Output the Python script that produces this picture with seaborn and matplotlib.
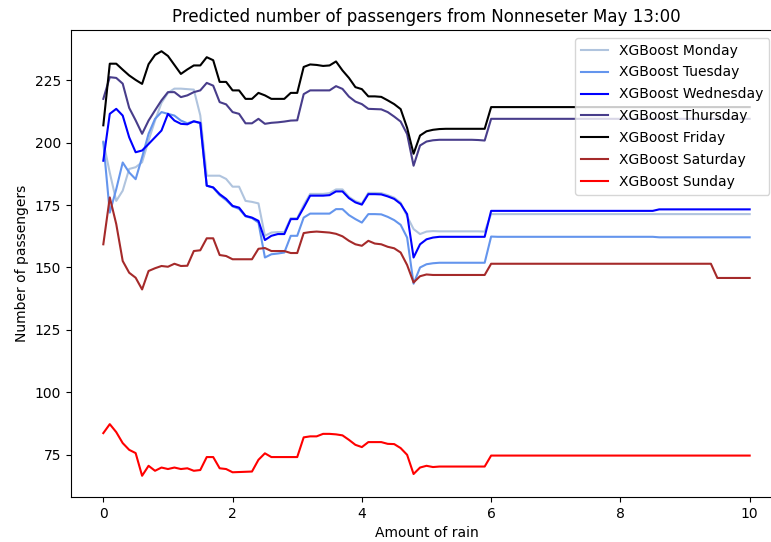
import numpy as np
import pandas as pd
import matplotlib
matplotlib.use("Agg")
import matplotlib.pyplot as plt
import seaborn as sns

# Amount of rain sampled every 0.1 from 0 to 10
rain = [round(i / 10, 1) for i in range(101)]

monday = [200.5, 188.0, 176.7, 180.8, 189.5, 190.2, 192.2, 200.9, 208.9, 216.0,
          220.0, 221.7, 221.7, 221.5, 221.3, 211.0, 186.8, 186.8, 186.8, 185.5,
          182.4, 182.4, 176.7, 176.3, 175.7, 162.7, 164.0, 164.2, 164.2, 169.8,
          169.8, 175.0, 179.5, 179.5, 179.5, 179.8, 181.3, 181.3, 178.3, 176.6,
          175.7, 179.9, 179.9, 179.8, 179.0, 178.0, 176.0, 170.5, 165.4, 163.4,
          164.4, 164.6, 164.5, 164.5, 164.5, 164.5, 164.5, 164.5, 164.5, 164.4,
          171.4] + [171.4] * 40

tuesday = [200.2, 172.0, 181.4, 192.1, 188.1, 185.4, 194.2, 203.6, 209.6, 212.3,
           211.6, 210.9, 208.9, 207.8, 208.6, 207.8, 182.8, 182.0, 179.0, 177.0,
           174.5, 173.5, 170.5, 169.8, 168.0, 154.0, 155.3, 155.6, 156.0, 162.7,
           162.7, 170.0, 171.6, 171.6, 171.6, 171.6, 173.4, 173.4, 171.0, 169.4,
           168.0, 171.4, 171.4, 171.3, 170.3, 169.0, 167.1, 162.0, 143.5, 150.0,
           151.3, 151.7, 151.9, 151.9, 151.9, 151.9, 151.9, 151.9, 151.9, 151.9,
           162.4] + [162.3] * 25 + [162.1] * 15

wednesday = [192.8, 211.6, 213.6, 210.9, 202.2, 196.2, 196.9, 199.5, 202.2, 204.9,
             211.6, 208.9, 207.6, 207.4, 208.6, 208.0, 182.8, 182.1, 179.4, 177.5,
             174.7, 174.0, 170.7, 170.0, 168.7, 161.0, 162.7, 163.4, 163.4, 169.4,
             169.4, 174.0, 178.8, 178.8, 178.8, 179.0, 180.5, 180.5, 177.8, 176.1,
             175.2, 179.4, 179.4, 179.3, 178.5, 177.5, 175.5, 171.4, 154.0, 159.3,
             161.3, 162.0, 162.3, 162.3, 162.3, 162.3, 162.3, 162.3, 162.3, 162.3,
             172.7] + [172.7] * 25 + [173.3] * 15

thursday = [217.6, 226.3, 226.0, 223.7, 214.0, 209.0, 203.6, 208.9, 213.0, 217.0,
            220.3, 220.3, 218.3, 219.0, 220.3, 221.0, 224.0, 222.9, 216.3, 215.4,
            212.3, 211.6, 207.8, 207.8, 209.6, 207.6, 208.0, 208.2, 208.5, 208.9,
            209.0, 219.5, 221.0, 221.0, 221.0, 221.0, 222.7, 221.6, 218.5, 216.5,
            215.5, 213.6, 213.5, 213.4, 212.3, 210.5, 208.5, 203.5, 190.8, 198.9,
            200.5, 201.0, 201.2, 201.2, 201.2, 201.2, 201.2, 201.2, 201.1, 200.9,
            209.6] + [209.6] * 40

friday = [207.0, 231.7, 231.7, 229.3, 227.0, 225.2, 223.6, 231.5, 235.2, 236.7,
          234.8, 231.2, 227.6, 229.4, 231.0, 231.0, 234.3, 233.1, 224.4, 224.4,
          221.0, 221.0, 217.6, 217.6, 220.0, 219.0, 217.6, 217.6, 217.6, 220.0,
          220.0, 230.4, 231.4, 231.2, 230.8, 231.0, 232.6, 229.0, 226.0, 222.3,
          221.5, 218.6, 218.6, 218.4, 217.0, 215.5, 213.5, 206.0, 195.6, 202.9,
          204.6, 205.2, 205.5, 205.6, 205.6, 205.6, 205.6, 205.6, 205.6, 205.6,
          214.3] + [214.3] * 40

saturday = [159.3, 178.1, 167.4, 152.6, 147.9, 145.9, 141.2, 148.6, 149.7, 150.6,
            150.3, 151.5, 150.6, 150.7, 156.6, 156.9, 161.7, 161.7, 155.0, 154.6,
            153.3, 153.3, 153.3, 153.3, 157.5, 157.8, 156.6, 156.6, 156.6, 155.8,
            155.8, 163.8, 164.2, 164.4, 164.2, 164.0, 163.5, 162.5, 160.7, 159.3,
            158.7, 160.7, 159.6, 159.3, 158.3, 157.7, 156.0, 151.0, 144.0, 146.5,
            147.2, 147.0, 147.0, 147.0, 147.0, 147.0, 147.0, 147.0, 147.0, 147.0,
            151.5] + [151.5] * 34 + [145.8] * 6

sunday = [83.6, 87.2, 84.0, 79.6, 76.9, 75.6, 66.5, 70.5, 68.5, 69.8,
          69.2, 69.8, 69.2, 69.5, 68.5, 68.8, 74.0, 74.0, 69.5, 69.2,
          67.9, 68.0, 68.1, 68.2, 72.9, 75.5, 74.0, 74.0, 74.0, 74.0,
          74.0, 81.9, 82.3, 82.3, 83.3, 83.3, 83.1, 82.7, 80.9, 78.9,
          78.0, 80.0, 80.0, 80.0, 79.3, 79.2, 77.6, 74.9, 67.2, 69.8,
          70.5, 70.0, 70.2, 70.2, 70.2, 70.2, 70.2, 70.2, 70.2, 70.2,
          74.6] + [74.6] * 40

labels = ["XGBoost Monday", "XGBoost Tuesday", "XGBoost Wednesday",
          "XGBoost Thursday", "XGBoost Friday", "XGBoost Saturday", "XGBoost Sunday"]
colors = ["lightsteelblue", "cornflowerblue", "blue", "darkslateblue",
          "black", "brown", "red"]
series = [monday, tuesday, wednesday, thursday, friday, saturday, sunday]

frames = []
for lab, vals in zip(labels, series):
    frames.append(pd.DataFrame({"rain": rain, "passengers": vals, "day": lab}))
df = pd.concat(frames, ignore_index=True)

fig = plt.figure(figsize=(7.71, 5.42), dpi=100)
ax = fig.add_axes([71 / 771, 45 / 542, 711 / 771, 467 / 542])

sns.lineplot(data=df, x="rain", y="passengers", hue="day", hue_order=labels,
             palette=dict(zip(labels, colors)), ax=ax, linewidth=1.5,
             sort=False, estimator=None)

handles, labs = ax.get_legend_handles_labels()
ax.legend(handles, labs, loc="upper left",
          bbox_to_anchor=(575 / 771, 1 - 38 / 542),
          bbox_transform=fig.transFigure, borderaxespad=0, labelspacing=0.57)

ax.set_title("Predicted number of passengers from Nonneseter May 13:00")
ax.set_xlabel("Amount of rain")
ax.set_ylabel("Number of passengers")

fig.savefig("out.png", dpi=100)
